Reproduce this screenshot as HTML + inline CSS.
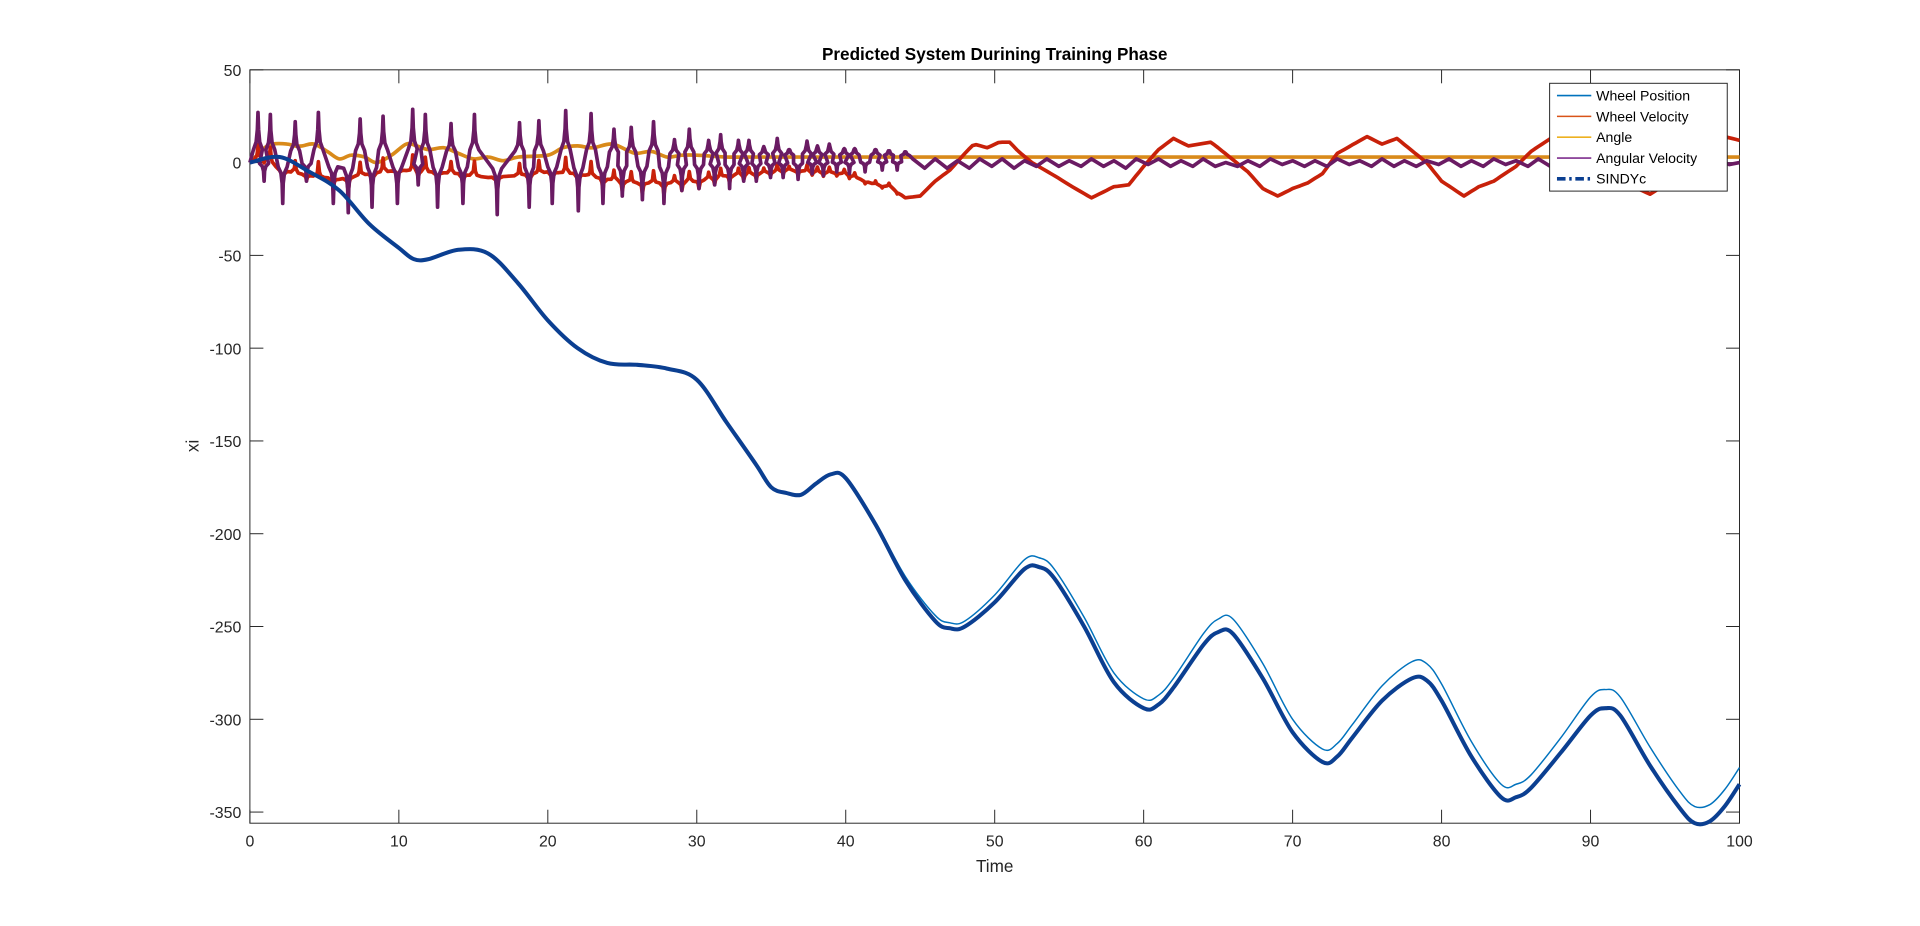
<!DOCTYPE html>
<html><head><meta charset="utf-8"><style>
html,body{margin:0;padding:0;background:#fff;}
svg{display:block;font-family:"Liberation Sans",sans-serif;}
</style></head><body>
<svg id="chart" width="1920" height="926" viewBox="0 0 1567.35 755.92" preserveAspectRatio="none" xmlns="http://www.w3.org/2000/svg">
<rect width="1568" height="756" fill="#fff"/>
<text x="812" y="49" text-anchor="middle" font-size="14" font-weight="bold" fill="#000">Predicted System Durining Training Phase</text>
<text x="812" y="712" text-anchor="middle" font-size="14" fill="#262626">Time</text>
<text transform="translate(162,364) rotate(-90)" text-anchor="middle" font-size="14" fill="#262626">xi</text>
<g id="axes"></g>
<g id="series"></g>
<g id="legend"></g>
</svg>
<script>
const xTicks=[0,10,20,30,40,50,60,70,80,90,100];
const yTicks=[50,0,-50,-100,-150,-200,-250,-300,-350];
const posT=[0,2,4,6,8,10,11,12,14,16,18,20,22,24,26,28,30,32,34,35,36,37,38,39,40,42,44,46,47,48,50,52,53,54,56,58,60,61,62,64,65,66,68,70,72,73,74,76,78,79,80,82,84,85,86,88,90,91,92,94,96,97,98,99,100];
const posV=[0,3,-5,-15,-33,-46,-52,-52,-47,-49,-65,-85,-100,-108,-109,-111,-117,-140,-163,-175,-178,-179,-173,-168,-170,-195,-225,-247,-251,-250,-237,-219,-218,-224,-250,-280,-294,-292,-283,-260,-253,-254,-278,-307,-323,-320,-310,-290,-278,-279,-290,-320,-342,-342,-337,-318,-298,-294,-298,-325,-348,-356,-355,-347,-335];
const trueOff=[0,0,0,0,0,0,0,0,0,0,0,0,0,0,0,0,0,0,0,0,0,0,0,0,0,1,2,3,3,3,4,5,5,5,5,5,5,5,5,6,7,8,8,7,7,7,7,8,9,9,9,8,7,7,7,8,10,10,10,10,9,9,9,9,9];
const velT=[0,1,2,4,6,8,10,12,14,16,18,20,22,24,26,28,30,32,34,36,38,40,42,43,44,45,46,47,48,48.6,49.5,50.3,51,51.6,52.5,54,55,56.5,57.5,58,59,60,61,62,63,64.5,65,67,68,69,70,71,72,73,75,76,77,79,80,81.5,82.5,83.5,85,86,87.5,88.5,89,90.5,92,94,95,96,97,98,99,100];
const velV=[0,3,-4,-7,-9,-6,-4,-5,-6,-8,-7,-5,-6,-9,-11,-11,-10,-7,-6,-4,-5,-6,-12,-13,-19,-18,-10,-4,5,10,8,11,11,6,0,-7,-12,-19,-15,-13,-12,-2,7,13,9,11,8,-5,-14,-18,-14,-11,-6,5,14,10,13,0,-10,-18,-13,-10,-2,6,14,12,13,0,-10,-17,-12,-10,0,8,14,12];
const angT=[0,1,1.5,2.5,3,3.5,4.3,5.2,6,6.8,7.7,8.5,9.5,10.5,11.2,12,13,14,15,16,17,18,20,21,22,23,24.3,25.5,26,27,28,29,30,32,34,36,40,50,60,70,80,90,100];
const angV=[0,8,10,10,9,9,10,6,2,4,3,0,4,10,9,7,8,5,2,3,1,3,4,8,9,8,10,6,5,6,3,4,4,3,3,3,3,3,3,3,3,3,3];
const upT=[0.54,1.37,3.04,4.6,7.4,8.94,10.93,11.78,13.5,15.07,18.1,19.4,21.2,22.9,24.44,25.6,27.1,28.5,29.5,30.8,31.6,32.8,33.5,34.5,35.4,36.2,37.4,38.1,38.9,39.9,40.6,42,42.9,44];
const upA=[27,26,22,27,23.5,25,28.7,26,21,26,21.5,22.6,28,26.4,18,19,22,12.4,18,12,15,12,12,8.6,13,7,11.6,9,10,7.5,7.5,7,6,5];
const dnT=[0.95,2.2,3.8,5.6,6.6,8.2,9.9,11.3,12.6,14.3,16.6,18.75,20.3,22.05,23.7,25,26.35,27.8,29,30.15,31.2,32.2,33.15,34,34.95,35.8,36.8,37.75,38.5,39.4,40.25,41.3,42.45,43.45];
const dnA=[-10,-22,-10,-22,-27,-24,-22,-12,-24,-22,-28,-24,-22,-26,-22,-18,-20,-22,-15,-14,-12,-14,-10,-10,-8,-8,-9,-6,-7,-5,-6,-5,-4,-4];
const wigT=[44.5,45.3,46,46.8,47.5,48.3,49,49.8,50.5,51.3,52,52.8,53.5,54.3,55,55.8,56.5,57.3,58,58.8,59.5,60.3,61,61.8,62.5,63.3,64,64.8,65.5,66.3,67,67.8,68.5,69.3,70,70.8,71.5,72.3,73,73.8,74.5,75.3,76,76.8,77.5,78.3,79,79.8,80.5,81.3,82,82.8,83.5,84.3,85,85.8,86.5,87.3,88,88.8,89.5,90.3,91,91.8,92.5,93.3,94,94.8,95.5,96.3,97,97.8,98.5,99.3,100];
const wigV=[2,-3,2,-3,1,-3,2,-2,2,-3,1,-2,2,-2,1,-2,2,-2,1,-3,2,-1,2,-2,1,-2,2,-2,0,-2,1,-2,2,-1,1,-2,1,-2,2,-1,1,-2,2,-2,1,-2,1,-1,2,-2,1,-2,2,-1,1,-2,2,-2,1,-2,1,-1,2,-2,1,-2,2,-2,1,-2,1,-1,2,-1,0];

const X0=204,X1=1420,Y0=57,Y1=672,YMAX=50,YMIN=-356;
const sx=t=>X0+(t-0)/(100)*(X1-X0);
const sy=v=>Y0+(YMAX-v)/(YMAX-YMIN)*(Y1-Y0);
const NS='http://www.w3.org/2000/svg';
function mk(tag,attrs,parent){const e=document.createElementNS(NS,tag);for(const k in attrs)e.setAttribute(k,attrs[k]);parent.appendChild(e);return e;}
function smooth(pts){let d='M'+pts[0][0].toFixed(1)+','+pts[0][1].toFixed(1);
 for(let i=0;i<pts.length-1;i++){const p0=pts[Math.max(0,i-1)],p1=pts[i],p2=pts[i+1],p3=pts[Math.min(pts.length-1,i+2)];
 const c1=[p1[0]+(p2[0]-p0[0])/6,p1[1]+(p2[1]-p0[1])/6],c2=[p2[0]-(p3[0]-p1[0])/6,p2[1]-(p3[1]-p1[1])/6];
 d+=' C'+c1[0].toFixed(1)+','+c1[1].toFixed(1)+' '+c2[0].toFixed(1)+','+c2[1].toFixed(1)+' '+p2[0].toFixed(1)+','+p2[1].toFixed(1);}return d;}
function lin(pts){return 'M'+pts.map(p=>p[0].toFixed(1)+','+p[1].toFixed(1)).join(' L');}

const axes=document.getElementById('axes');
const box=mk('rect',{x:X0,y:Y0,width:X1-X0,height:Y1-Y0,fill:'none',stroke:'#262626','stroke-width':0.8},axes);


xTicks.forEach(t=>{const x=sx(t);
 const l1=mk('line',{x1:x,x2:x,y1:Y1,y2:Y1-11,stroke:'#262626','stroke-width':0.8},axes);
 
 
 const l2=mk('line',{x1:x,x2:x,y1:Y0,y2:Y0+11,stroke:'#262626','stroke-width':0.8},axes);
 
 
 const tx=mk('text',{x:x,y:Y1+19,'text-anchor':'middle','font-size':13,fill:'#262626'},axes);tx.textContent=t;
 
 });
yTicks.forEach(v=>{const y=sy(v);
 const l1=mk('line',{x1:X0,x2:X0+11,y1:y,y2:y,stroke:'#262626','stroke-width':0.8},axes);
 
 
 const l2=mk('line',{x1:X1,x2:X1-11,y1:y,y2:y,stroke:'#262626','stroke-width':0.8},axes);
 
 
 const tx=mk('text',{x:X0-7,y:y+5,'text-anchor':'end','font-size':13,fill:'#262626'},axes);tx.textContent=v;
 
 });

const S=document.getElementById('series');
const pTrue=posT.map((t,i)=>[sx(t),sy(posV[i]+trueOff[i])]);
const p1=mk('path',{d:smooth(pTrue),fill:'none',stroke:'#0072BD','stroke-width':1.2},S);


const pAng=angT.map((t,i)=>[sx(t),sy(angV[i])]);
const p3=mk('path',{d:smooth(pAng),fill:'none',stroke:'#D98A1A','stroke-width':3},S);


function velAt(t){for(let i=0;i<velT.length-1;i++){if(t<=velT[i+1]){const f=(t-velT[i])/(velT[i+1]-velT[i]);return velV[i]+f*(velV[i+1]-velV[i]);}}return velV[velV.length-1];}
let vpts=[];const spikes=[];
upT.forEach((t,i)=>spikes.push([t,upA[i]]));dnT.forEach((t,i)=>spikes.push([t,dnA[i]]));
spikes.sort((a,b)=>a[0]-b[0]);
let grid=[];for(let t=0;t<=100.001;t+=0.25)grid.push(t);
spikes.forEach(s=>{grid.push(s[0]-0.07,s[0],s[0]+0.07);});
grid=grid.filter(t=>t>=0&&t<=100).sort((a,b)=>a-b);
grid.forEach(t=>{let v=velAt(t);spikes.forEach(s=>{if(s[0]<44){const d=Math.abs(t-s[0]);if(d<0.3)v+=s[1]*0.3*Math.exp(-d/0.06);}});vpts.push([sx(t),sy(v)]);});
const p2=mk('path',{d:lin(vpts),fill:'none',stroke:'#C8210A','stroke-width':3,'stroke-linejoin':'round'},S);


let apts=[[sx(0),sy(0)]];
spikes.forEach(s=>{const t=s[0],a=s[1];const b=a>0?3:1;
 apts.push([sx(t-0.3),sy(b+a*0.15)],[sx(t-0.12),sy(b+a*0.3)],[sx(t-0.04),sy(b+a*0.55)],[sx(t),sy(a)],[sx(t+0.04),sy(b+a*0.55)],[sx(t+0.12),sy(b+a*0.3)],[sx(t+0.3),sy(b+a*0.15)]);});
wigT.forEach((t,i)=>apts.push([sx(t),sy(wigV[i])]));
const p4=mk('path',{d:lin(apts),fill:'none',stroke:'#6A1B63','stroke-width':3,'stroke-linejoin':'round'},S);


const pS=posT.map((t,i)=>[sx(t),sy(posV[i])]);
const p5=mk('path',{d:smooth(pS),fill:'none',stroke:'#0B3F91','stroke-width':3.3},S);



const L=document.getElementById('legend');
const lb=mk('rect',{x:1265,y:68,width:145,height:88,fill:'#fff',stroke:'#262626','stroke-width':0.8},L);


const names=['Wheel Position','Wheel Velocity','Angle','Angular Velocity','SINDYc'];
const cols=['#0072BD','#D95319','#EDB120','#7E2F8E','#0B3F91'];
names.forEach((n,i)=>{const y=78+i*17;
 const ln=mk('line',{x1:1271,x2:1299,y1:y,y2:y,stroke:cols[i],'stroke-width':i==4?3:1.3,'stroke-dasharray':i==4?'7,3,2,3':'none'},L);
 
 
 const tx=mk('text',{x:1303,y:y+4,'font-size':11.5,fill:'#000'},L);tx.textContent=n;
 
 });
</script>
</body></html>
